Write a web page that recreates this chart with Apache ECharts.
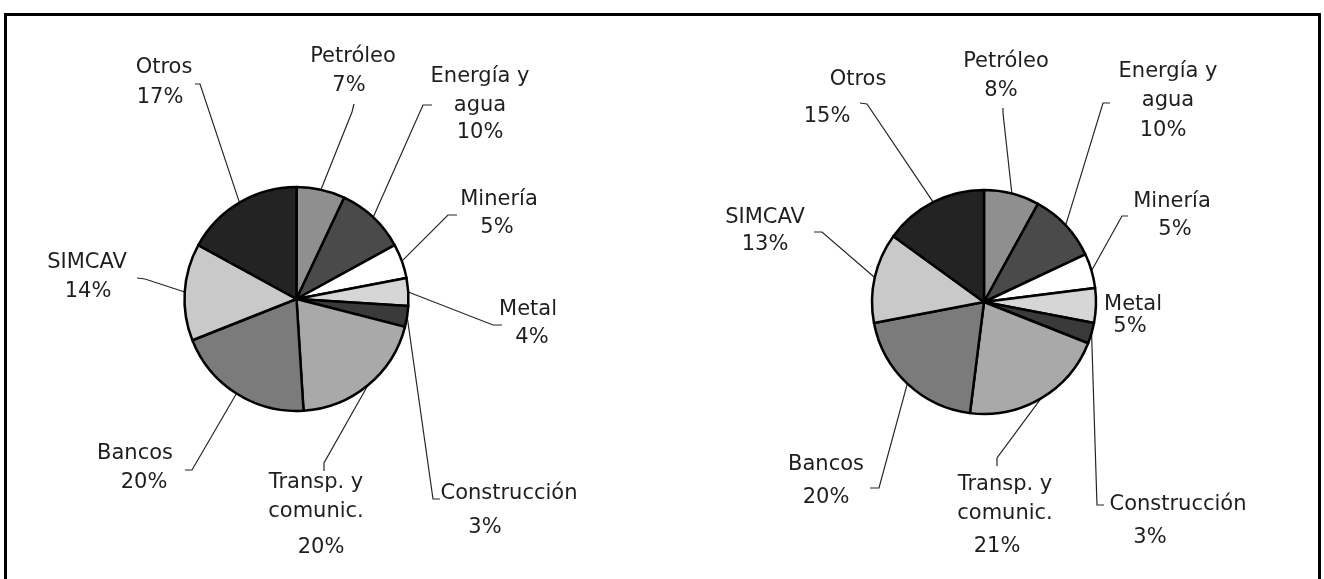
<!DOCTYPE html>
<html>
<head>
<meta charset="utf-8">
<script src="https://cdn.jsdelivr.net/npm/echarts@6/dist/echarts.min.js"></script>
<style>
  html, body { margin: 0; padding: 0; background: #fff; }
  #chart { width: 1324px; height: 579px; }
</style>
</head>
<body>
<div id="chart"></div>
<script>
// sectores, en el orden de las agujas del reloj desde las 12
const sectores = ['Petróleo', 'Energía y\nagua', 'Minería', 'Metal', 'Construcción',
  'Transp. y\ncomunic.', 'Bancos', 'SIMCAV', 'Otros']
const valoresIzq = [7, 10, 5, 4, 3, 20, 20, 14, 17]
const valoresDer = [8, 10, 5, 5, 3, 21, 20, 13, 15]

// tonos de gris de cada sector
const grises = ['#8f8f8f', '#4a4a4a', '#ffffff', '#d6d6d6', '#3a3a3a',
  '#a9a9a9', '#7b7b7b', '#c9c9c9', '#232323']

const centros = [[296.5, 299], [984, 302]]
const radio = 112

// centro de la primera línea de cada etiqueta (px)
const posEtiquetas = [
  [[353, 57], [480, 77], [499, 200], [528, 310], [509, 494], [316, 483], [135, 454], [87, 263], [164, 68]],
  [[1006, 62], [1168, 72], [1172, 202], [1133, 305], [1178, 505], [1005, 485], [826, 465], [765, 218], [858, 80]]
]
// desplazamiento horizontal del porcentaje respecto del nombre, y su alto de línea
const despValor = [
  [-4, 0, -2, 4, -24, 5, 9, 1, -4],
  [-5, -5, 3, -3, -28, -8, 0, 0, -31]
]
const altoValor = [
  [29, 25, 27, 27, 39, 43, 29, 29, 31],
  [29, 31, 27, 15, 37, 37, 37, 25, 45]
]
// quiebre y extremo de cada línea guía (null = sin línea)
const guias = [
  [[[352, 112], [354, 104]], [[423, 105], [432, 105]], [[448, 215], [457, 215]], [[493, 325], [502, 325]],
   [[433, 499], [440, 499]], [[324, 463], [324, 471]], [[192, 470], [185, 470]], [[145, 279], [137, 278]],
   [[200, 84], [195, 84]]],
  [[[1003, 113], [1003, 108]], [[1103, 103], [1110, 103]], [[1122, 216], [1128, 216]], null,
   [[1097, 505], [1104, 505]], [[997, 458], [997, 466]], [[879, 488], [870, 488]], [[822, 232], [814, 232]],
   [[867, 104], [860, 103]]]
]

const FUENTE = 21
const ALTO_NOMBRE = 29

const chart = echarts.init(document.getElementById('chart'))

const puntoArco = (valores, s, i) => {
  const total = valores.reduce((a, b) => a + b, 0)
  const antes = valores.slice(0, i).reduce((a, b) => a + b, 0)
  const ang = (antes + valores[i] / 2) / total * Math.PI * 2
  return [centros[s][0] + radio * Math.sin(ang), centros[s][1] - radio * Math.cos(ang)]
}

const hacerDatos = (valores, s) => sectores.map((nombre, i) => {
  const d = despValor[s][i]
  return {
    name: nombre,
    value: valores[i],
    itemStyle: { color: grises[i] },
    labelLine: { show: guias[s][i] != null },
    label: {
      rich: {
        v: {
          fontSize: FUENTE,
          color: '#1e1e1e',
          fontFamily: 'Verdana, "DejaVu Sans", sans-serif',
          lineHeight: altoValor[s][i],
          padding: [0, Math.max(0, -2 * d), 0, Math.max(0, 2 * d)]
        }
      }
    }
  }
})

const seriePie = (valores, s) => ({
  type: 'pie',
  center: centros[s],
  radius: radio,
  startAngle: 90,
  clockwise: true,
  avoidLabelOverlap: false,
  silent: true,
  itemStyle: { borderColor: '#000', borderWidth: 2.5 },
  label: {
    show: true,
    formatter: '{n|{b}}\n{v|{c}%}',
    color: '#1e1e1e',
    fontFamily: 'Verdana, "DejaVu Sans", sans-serif',
    fontSize: FUENTE,
    rich: {
      n: {
        fontSize: FUENTE,
        color: '#1e1e1e',
        fontFamily: 'Verdana, "DejaVu Sans", sans-serif',
        lineHeight: ALTO_NOMBRE
      }
    }
  },
  labelLine: {
    show: true,
    length: 10,
    length2: 7,
    lineStyle: { color: '#262626', width: 1.2 }
  },
  labelLayout: (p) => {
    const pos = posEtiquetas[p.seriesIndex][p.dataIndex]
    const res = { x: pos[0], y: pos[1] - ALTO_NOMBRE / 2, align: 'center', verticalAlign: 'top' }
    const g = guias[p.seriesIndex][p.dataIndex]
    if (g) {
      const inicio = (p.labelLinePoints && p.labelLinePoints[0]) ||
        puntoArco(valores, p.seriesIndex, p.dataIndex)
      res.labelLinePoints = [inicio, g[0], g[1]]
    }
    return res
  },
  data: hacerDatos(valores, s)
})

chart.setOption({
  animation: false,
  graphic: [{
    type: 'rect',
    shape: { x: 5.5, y: 14.5, width: 1314, height: 700 },
    style: { fill: 'none', stroke: '#000', lineWidth: 3 }
  }],
  series: [
    seriePie(valoresIzq, 0),
    seriePie(valoresDer, 1)
  ]
})
</script>
</body>
</html>
